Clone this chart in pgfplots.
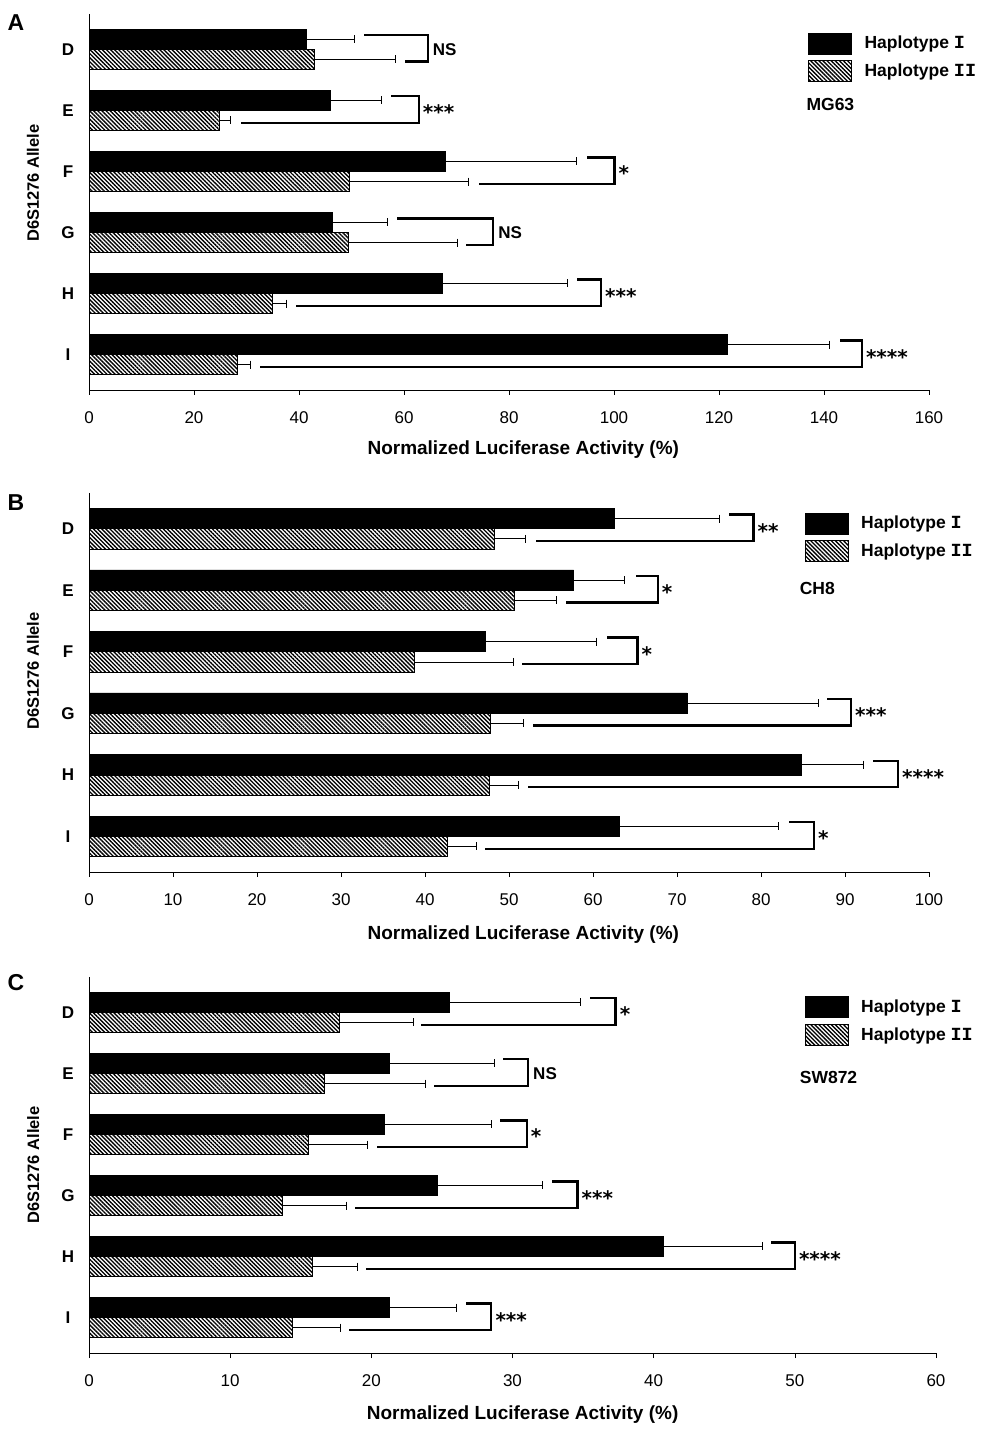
\documentclass[border=0pt]{standalone}
\usepackage{fontspec}
\setmainfont{Liberation Sans}
\newfontfamily\numfont{Liberation Mono}
\newfontfamily\starfont{DejaVu Sans}
\usepackage{pgfplots}
\usepackage{pgfplotstable}
\pgfplotsset{compat=1.18}
\usetikzlibrary{patterns.meta}
\newcommand{\hI}{{\numfont\bfseries\fontsize{18.5}{18.5}\selectfont I}}
\newcommand{\hII}{{\numfont\bfseries\fontsize{18.5}{18.5}\selectfont II}}

\tikzset{
  sig/.style={anchor=west, font=\fontsize{17}{17}\selectfont\bfseries, inner sep=0pt, xshift=5pt},
  star/.style={anchor=base west, font=\fontsize{20}{20}\selectfont\starfont\bfseries, inner sep=0pt, xshift=4pt, yshift=-9.5pt},
}
\pgfplotsset{
  panel/.style={
    scale only axis,
    ymin=-0.58, ymax=5.58, y dir=reverse,
    xmin=0,
    axis x line*=bottom, axis y line*=left,
    axis line style={-, line width=0.8pt},
    tick align=outside,
    major tick length=5pt,
    tick style={line width=0.6pt, black},
    ytick={0,...,5},
    yticklabels={D,E,F,G,H,I},
    ytick style={draw=none},
    yticklabel style={font=\fontsize{17}{17}\selectfont\bfseries, anchor=center, xshift=-16pt},
    xticklabel style={font=\fontsize{17}{17}\selectfont, yshift=-13pt},
    /pgf/number format/assume math mode=true,
    xlabel={Normalized Luciferase Activity (\%)},
    xlabel style={font=\fontsize{19}{19}\selectfont\bfseries, at={(axis description cs:0.517,0)}, anchor=center, yshift=-60pt},
    ylabel={D6S1276 Allele},
    ylabel style={font=\fontsize{16.5}{16.5}\selectfont\bfseries, at={(axis description cs:-0.0667,0.53)}, anchor=center},
    legend image code/.code={\draw[##1] (0pt,-10.5pt) rectangle (43pt,10.5pt); \path[draw=none, fill=none] (0pt,0pt) -- (54pt,0pt);},
    legend style={draw=none, fill=none, anchor=north west, font=\fontsize{17.5}{17.5}\selectfont\bfseries, row sep=6pt, inner sep=0pt, cells={anchor=west}},
    clip=false,
  },
  hapI/.style={xbar, bar width=0.33, bar shift=-0.165, fill=black, draw=black, line width=0.5pt},
  hapII/.style={xbar, bar width=0.33, bar shift=0.165, draw=black, line width=0.5pt,
     pattern={Lines[angle=-45, distance=2.9pt, line width=1.35pt]}, pattern color=black},
  errb/.style={forget plot, draw=none, mark=none,
     error bars/.cd, x dir=plus, x explicit, error mark=|,
     error bar style={draw=black, solid, line width=0.7pt},
     error mark options={draw=black, solid, mark size=4pt, line width=0.7pt}},
  bracket/.style={black, line width=2.2pt, line join=miter, line cap=rect, no marks, forget plot},
}

% c = category (D=0 ... I=5); y1,y2 = centre of each bar of the pair;
% v1,e1 = Haplotype I value and +error; v2,e2 = Haplotype II value and +error
\pgfplotstableread{
c  y1      y2     v1     e1    v2    e2
0  -0.165  0.165  41.3   9.2   42.9  15.5
1  0.835   1.165  46.0   9.6   24.8  2.2
2  1.835   2.165  67.8   25.1  49.6  22.7
3  2.835   3.165  46.4   10.4  49.3  20.9
4  3.835   4.165  67.3   23.9  34.9  2.6
5  4.835   5.165  121.5  19.5  28.2  2.5
}\dataA
\pgfplotstableread{
c  y1      y2     v1    e1    v2    e2
0  -0.165  0.165  62.5  12.5  48.2  3.8
1  0.835   1.165  57.7  6.0   50.6  5.0
2  1.835   2.165  47.2  13.2  38.7  11.8
3  2.835   3.165  71.2  15.6  47.8  3.9
4  3.835   4.165  84.8  7.4   47.7  3.4
5  4.835   5.165  63.1  19.0  42.6  3.5
}\dataB
\pgfplotstableread{
c  y1      y2     v1    e1    v2    e2
0  -0.165  0.165  25.5  9.3   17.7  5.3
1  0.835   1.165  21.3  7.4   16.7  7.1
2  1.835   2.165  20.9  7.6   15.5  4.2
3  2.835   3.165  24.7  7.4   13.7  4.5
4  3.835   4.165  40.7  7.0   15.8  3.2
5  4.835   5.165  21.3  4.7   14.4  3.4
}\dataC

\begin{document}
\begin{tikzpicture}
\useasboundingbox (0,0) rectangle (998pt,1432pt);

% ---------------- Panel A ----------------
\begin{axis}[panel, at={(89pt,1042pt)}, anchor=south west, width=840pt, height=376pt,
  xmax=160, xtick={0,20,...,160},
  ylabel style={at={(axis description cs:-0.0667,0.55)}},
  legend style={at={(axis description cs:0.856,0.951)}}]
\addplot[hapI] table[x=v1, y=c]{\dataA};
\addplot[hapII] table[x=v2, y=c]{\dataA};
\legend{Haplotype \hI, Haplotype \hII}
\addplot[errb] table[x=v1, y=y1, x error=e1]{\dataA};
\addplot[errb] table[x=v2, y=y2, x error=e2]{\dataA};
\addplot[bracket] coordinates {(52.6,-0.23) (64.5,-0.23) (64.5,0.20) (60.4,0.20)};
\addplot[bracket] coordinates {(57.8,0.77) (62.8,0.77) (62.8,1.20) (29.2,1.20)};
\addplot[bracket] coordinates {(95.0,1.77) (100.1,1.77) (100.1,2.20) (74.4,2.20)};
\addplot[bracket] coordinates {(58.8,2.77) (77.0,2.77) (77.0,3.20) (72.1,3.20)};
\addplot[bracket] coordinates {(93.2,3.77) (97.5,3.77) (97.5,4.20) (39.6,4.20)};
\addplot[bracket] coordinates {(143.3,4.77) (147.2,4.77) (147.2,5.20) (32.7,5.20)};
\node[sig] at (axis cs:64.5,0) {NS};
\node[star] at (axis cs:62.8,1) {***};
\node[star] at (axis cs:100.1,2) {*};
\node[sig] at (axis cs:77.0,3) {NS};
\node[star] at (axis cs:97.5,4) {***};
\node[star] at (axis cs:147.2,5) {****};
\node[anchor=west, inner sep=0pt, font=\fontsize{17.5}{17.5}\selectfont\bfseries] at (axis description cs:0.854,0.758) {MG63};
\end{axis}

% ---------------- Panel B ----------------
\begin{axis}[panel, at={(89pt,560pt)}, anchor=south west, width=840pt, height=379pt,
  xmax=100, xtick={0,10,...,100},
  xlabel style={yshift=-3pt},
  legend style={at={(axis description cs:0.852,0.949)}}]
\addplot[hapI] table[x=v1, y=c]{\dataB};
\addplot[hapII] table[x=v2, y=c]{\dataB};
\legend{Haplotype \hI, Haplotype \hII}
\addplot[errb] table[x=v1, y=y1, x error=e1]{\dataB};
\addplot[errb] table[x=v2, y=y2, x error=e2]{\dataB};
\addplot[bracket] coordinates {(76.3,-0.23) (79.1,-0.23) (79.1,0.20) (53.4,0.20)};
\addplot[bracket] coordinates {(65.2,0.77) (67.7,0.77) (67.7,1.20) (56.9,1.20)};
\addplot[bracket] coordinates {(61.8,1.77) (65.3,1.77) (65.3,2.20) (51.7,2.20)};
\addplot[bracket] coordinates {(88.0,2.77) (90.7,2.77) (90.7,3.20) (53.0,3.20)};
\addplot[bracket] coordinates {(93.5,3.77) (96.3,3.77) (96.3,4.20) (52.4,4.20)};
\addplot[bracket] coordinates {(83.5,4.77) (86.3,4.77) (86.3,5.20) (47.3,5.20)};
\node[star] at (axis cs:79.1,0) {**};
\node[star] at (axis cs:67.7,1) {*};
\node[star] at (axis cs:65.3,2) {*};
\node[star] at (axis cs:90.7,3) {***};
\node[star] at (axis cs:96.3,4) {****};
\node[star] at (axis cs:86.3,5) {*};
\node[anchor=west, inner sep=0pt, font=\fontsize{17.5}{17.5}\selectfont\bfseries] at (axis description cs:0.846,0.749) {CH8};
\end{axis}

% ---------------- Panel C ----------------
\begin{axis}[panel, at={(89pt,79pt)}, anchor=south west, width=847pt, height=376pt,
  xmax=60, xtick={0,10,...,60},
  xlabel style={at={(axis description cs:0.512,0)}, yshift=-2pt},
  ylabel style={at={(axis description cs:-0.066,0.5)}},
  legend style={at={(axis description cs:0.845,0.949)}}]
\addplot[hapI] table[x=v1, y=c]{\dataC};
\addplot[hapII] table[x=v2, y=c]{\dataC};
\legend{Haplotype \hI, Haplotype \hII}
\addplot[errb] table[x=v1, y=y1, x error=e1]{\dataC};
\addplot[errb] table[x=v2, y=y2, x error=e2]{\dataC};
\addplot[bracket] coordinates {(35.6,-0.23) (37.3,-0.23) (37.3,0.20) (23.6,0.20)};
\addplot[bracket] coordinates {(29.4,0.77) (31.1,0.77) (31.1,1.20) (24.5,1.20)};
\addplot[bracket] coordinates {(29.2,1.77) (31.0,1.77) (31.0,2.20) (20.5,2.20)};
\addplot[bracket] coordinates {(32.9,2.77) (34.6,2.77) (34.6,3.20) (18.9,3.20)};
\addplot[bracket] coordinates {(48.4,3.77) (50.0,3.77) (50.0,4.20) (19.7,4.20)};
\addplot[bracket] coordinates {(26.8,4.77) (28.5,4.77) (28.5,5.20) (18.5,5.20)};
\node[star] at (axis cs:37.3,0) {*};
\node[sig] at (axis cs:31.1,1) {NS};
\node[star] at (axis cs:31.0,2) {*};
\node[star] at (axis cs:34.6,3) {***};
\node[star] at (axis cs:50.0,4) {****};
\node[star] at (axis cs:28.5,5) {***};
\node[anchor=west, inner sep=0pt, font=\fontsize{17.5}{17.5}\selectfont\bfseries] at (axis description cs:0.839,0.734) {SW872};
\end{axis}

% panel letters
\node[font=\fontsize{23}{23}\selectfont\bfseries] at (16pt,1409pt) {A};
\node[font=\fontsize{23}{23}\selectfont\bfseries] at (16pt,929pt) {B};
\node[font=\fontsize{23}{23}\selectfont\bfseries] at (16pt,449pt) {C};
\end{tikzpicture}
\end{document}
